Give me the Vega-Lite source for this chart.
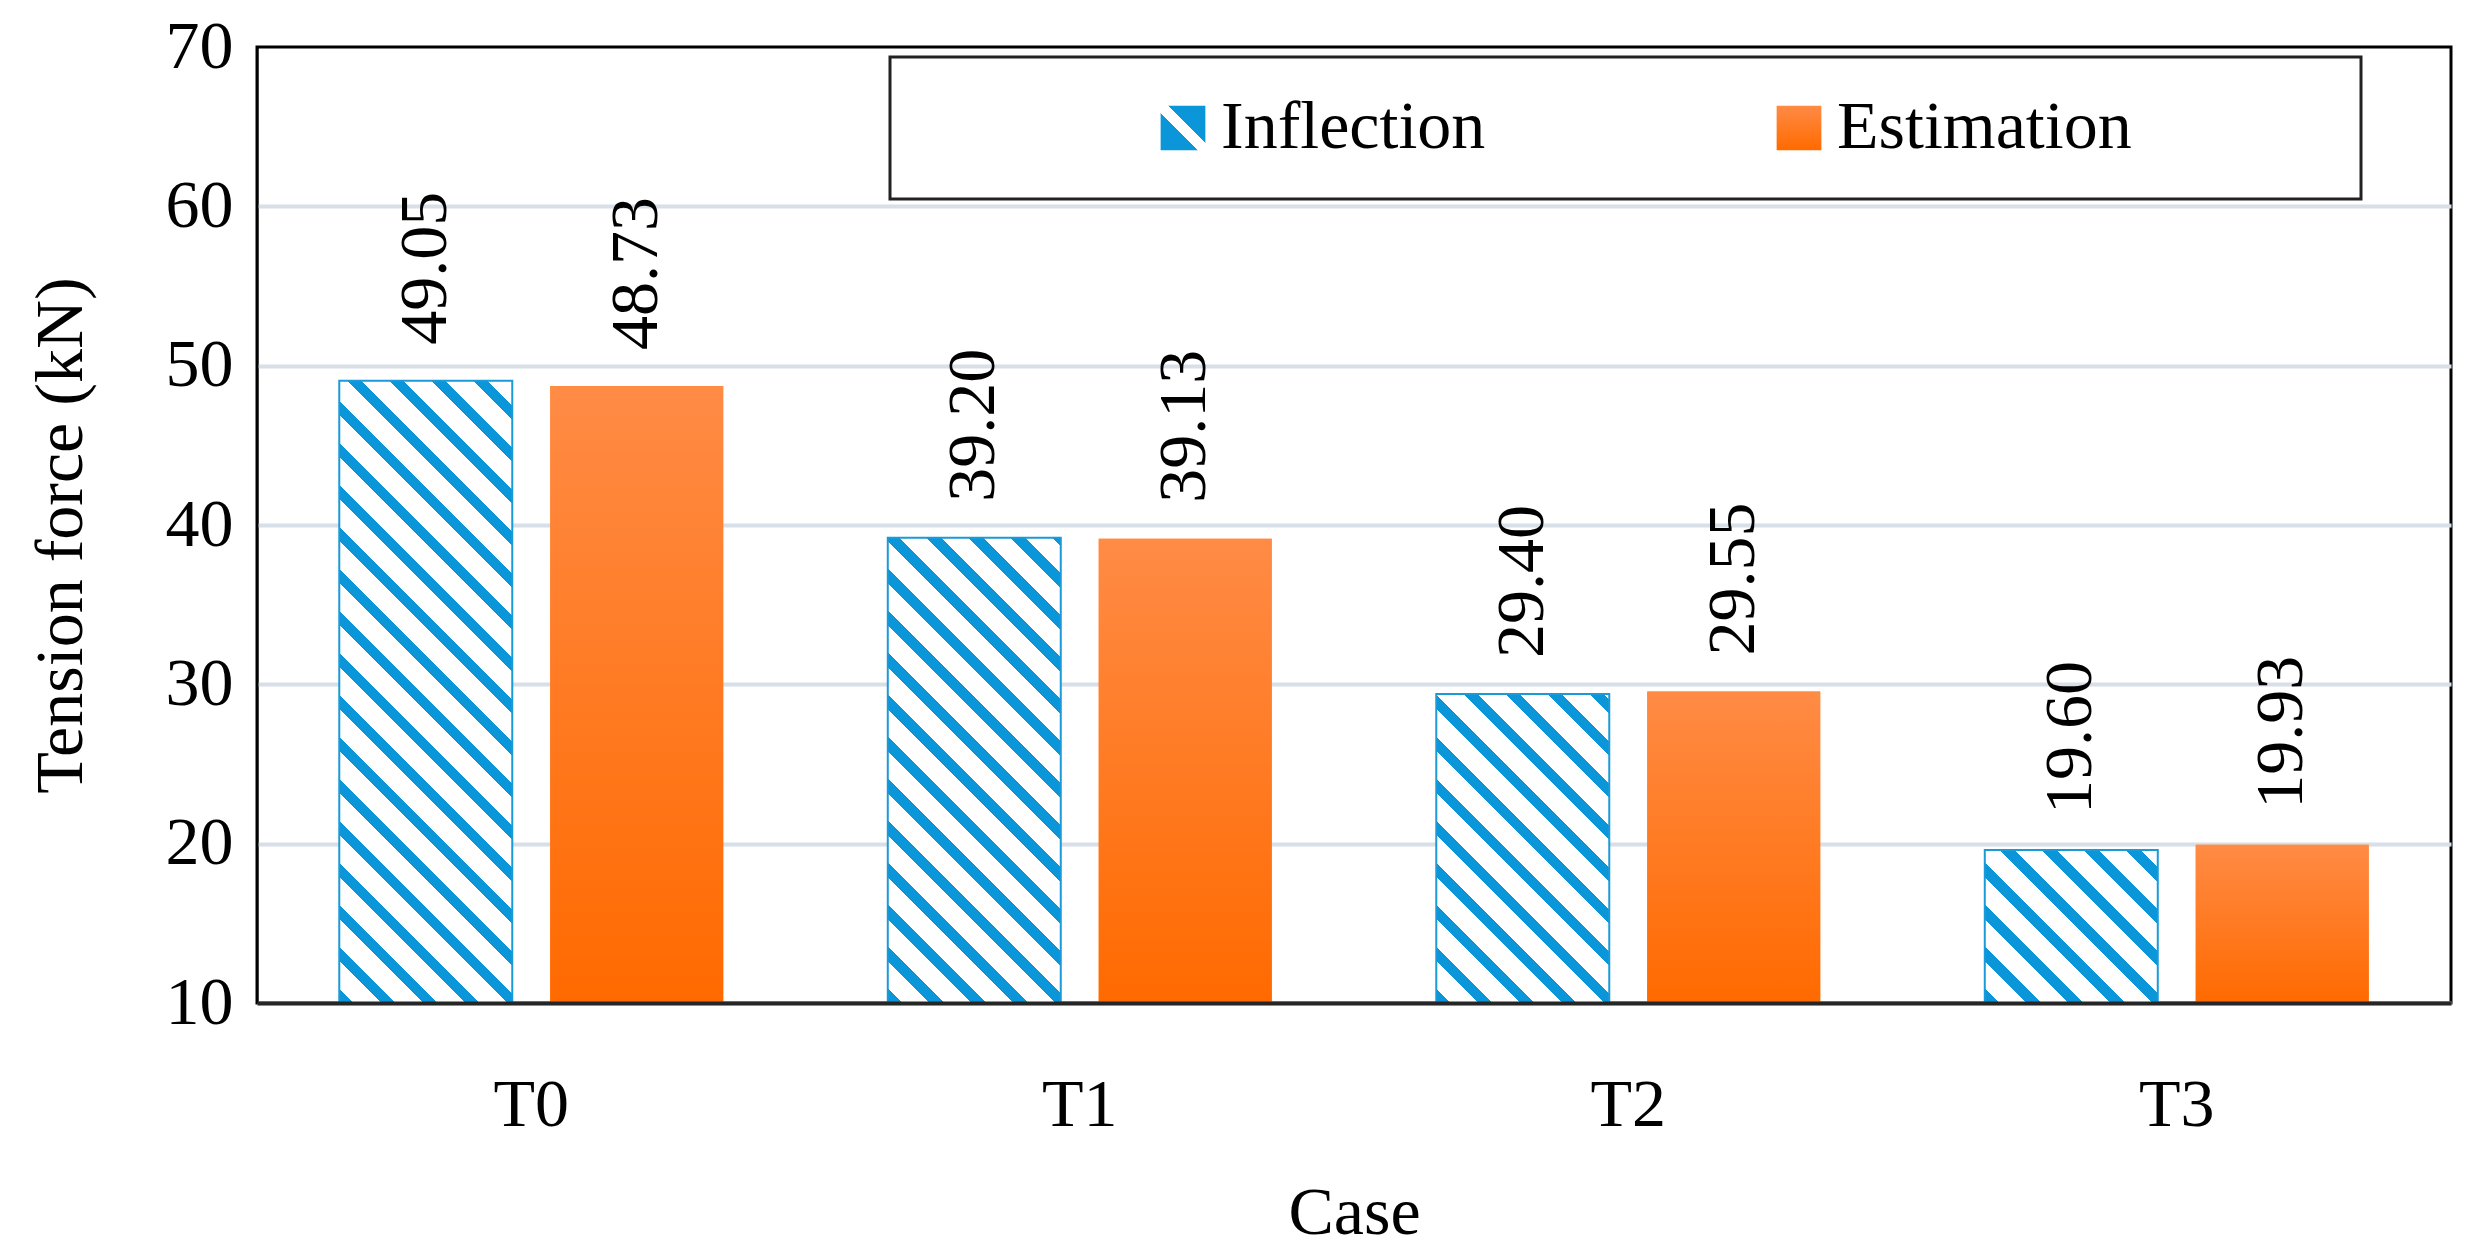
{
  "$schema": "https://vega.github.io/schema/vega-lite/v6.json",
  "width": 2194,
  "height": 956,
  "autosize": {"type": "none"},
  "padding": {"left": 257, "top": 47, "right": 17, "bottom": 255},
  "background": "white",
  "config": {
    "view": {"stroke": "#000", "strokeWidth": 3},
    "font": "Liberation Serif",
    "legend": {"strokeWidth": 3}
  },
  "data": {
    "values": [
      {"Case": "T0", "Series": "Inflection", "Force": 49.05},
      {"Case": "T0", "Series": "Estimation", "Force": 48.73},
      {"Case": "T1", "Series": "Inflection", "Force": 39.20},
      {"Case": "T1", "Series": "Estimation", "Force": 39.13},
      {"Case": "T2", "Series": "Inflection", "Force": 29.40},
      {"Case": "T2", "Series": "Estimation", "Force": 29.55},
      {"Case": "T3", "Series": "Inflection", "Force": 19.60},
      {"Case": "T3", "Series": "Estimation", "Force": 19.93}
    ]
  },
  "encoding": {
    "x": {
      "field": "Case", "type": "nominal", "title": "Case",
      "scale": {"paddingInner": 0.3, "paddingOuter": 0.15},
      "axis": {
        "labelAngle": 0, "labelFontSize": 68, "labelFont": "Liberation Serif", "labelColor": "#000",
        "labelPadding": 122, "labelBaseline": "alphabetic", "ticks": false, "tickSize": 0,
        "domainColor": "#262626", "domainWidth": 4, "grid": false,
        "titleFontSize": 68, "titleFont": "Liberation Serif", "titleFontWeight": "normal", "titleColor": "#000",
        "titleY": 230, "titleBaseline": "alphabetic", "zindex": 1
      }
    },
    "xOffset": {
      "field": "Series", "type": "nominal",
      "scale": {"domain": ["Inflection", "Estimation"], "paddingInner": 0.18}
    },
    "y": {
      "field": "Force", "type": "quantitative", "title": "Tension force (kN)",
      "scale": {"domain": [10, 70], "nice": false, "zero": false},
      "axis": {
        "values": [10, 20, 30, 40, 50, 60, 70],
        "labelFontSize": 68, "labelFont": "Liberation Serif", "labelColor": "#000", "labelPadding": 24,
        "ticks": false, "tickSize": 0, "domainColor": "#000", "domainWidth": 2,
        "grid": true,
        "gridColor": {"condition": {"test": "datum.value == 70", "value": "transparent"}, "value": "#D7DFE8"},
        "gridWidth": 4,
        "titleFontSize": 68, "titleFont": "Liberation Serif", "titleFontWeight": "normal", "titleColor": "#000",
        "titleX": -196, "titleY": 488, "titleAlign": "center", "titleBaseline": "middle", "zindex": 0
      }
    }
  },
  "layer": [
    {
      "mark": {"type": "bar"},
      "encoding": {
        "y2": {"datum": 10},
        "color": {
          "field": "Series", "type": "nominal",
          "scale": {
            "domain": ["Inflection", "Estimation"],
            "range": [
              {"expr": "{gradient:'linear',x1:0,y1:1,x2:1,y2:0,stops:[{offset:0,color:'#0A96D8'},{offset:0.42,color:'#0A96D8'},{offset:0.42,color:'#fff'},{offset:0.58,color:'#fff'},{offset:0.58,color:'#0A96D8'},{offset:1,color:'#0A96D8'}]}"},
              {"expr": "{gradient:'linear',x1:0,y1:0,x2:0,y2:1,stops:[{offset:0,color:'#FF8B45'},{offset:1,color:'#FF6A00'}]}"}
            ]
          },
          "legend": {
            "orient": "none", "legendX": 633, "legendY": 10, "direction": "horizontal",
            "title": "\u00a0", "titleOrient": "right", "titlePadding": 192, "titleFontSize": 68, "titleFont": "Liberation Serif",
            "symbolType": "square", "symbolSize": 2000, "symbolStrokeWidth": 0,
            "labelFontSize": 68, "labelFont": "Liberation Serif", "labelColor": "#000", "labelLimit": 1000,
            "labelOffset": 4, "columnPadding": 57, "symbolOffset": 222, "padding": 37,
            "strokeColor": "#222"
          }
        }
      }
    },
    {
      "transform": [{"filter": "datum.Series == 'Estimation'"}],
      "mark": {
        "type": "bar",
        "fill": {"gradient": "linear", "x1": 0, "y1": 0, "x2": 0, "y2": 1, "stops": [
          {"offset": 0, "color": "#FF8B45"}, {"offset": 1, "color": "#FF6A00"}]}
      },
      "encoding": {"y2": {"datum": 10}}
    },
    {
      "transform": [{"filter": "datum.Series == 'Inflection'"}],
      "mark": {
        "type": "bar", "stroke": "#1A9AD8", "strokeWidth": 2,
        "fill": {"expr": "{gradient:'linear',x1:0,y1:1,x2:840*bandwidth('xOffset')/(pow(bandwidth('xOffset'),2)+pow(scale('y',10)-scale('y',datum.Force),2)),y2:1-840*(scale('y',10)-scale('y',datum.Force))/(pow(bandwidth('xOffset'),2)+pow(scale('y',10)-scale('y',datum.Force),2)),stops:[{offset:0,color:'#0A96D8'},{offset:0.0175,color:'#0A96D8'},{offset:0.0175,color:'#fff'},{offset:0.05,color:'#fff'},{offset:0.05,color:'#0A96D8'},{offset:0.0675,color:'#0A96D8'},{offset:0.0675,color:'#fff'},{offset:0.1,color:'#fff'},{offset:0.1,color:'#0A96D8'},{offset:0.1175,color:'#0A96D8'},{offset:0.1175,color:'#fff'},{offset:0.15,color:'#fff'},{offset:0.15,color:'#0A96D8'},{offset:0.1675,color:'#0A96D8'},{offset:0.1675,color:'#fff'},{offset:0.2,color:'#fff'},{offset:0.2,color:'#0A96D8'},{offset:0.2175,color:'#0A96D8'},{offset:0.2175,color:'#fff'},{offset:0.25,color:'#fff'},{offset:0.25,color:'#0A96D8'},{offset:0.2675,color:'#0A96D8'},{offset:0.2675,color:'#fff'},{offset:0.3,color:'#fff'},{offset:0.3,color:'#0A96D8'},{offset:0.3175,color:'#0A96D8'},{offset:0.3175,color:'#fff'},{offset:0.35,color:'#fff'},{offset:0.35,color:'#0A96D8'},{offset:0.3675,color:'#0A96D8'},{offset:0.3675,color:'#fff'},{offset:0.4,color:'#fff'},{offset:0.4,color:'#0A96D8'},{offset:0.4175,color:'#0A96D8'},{offset:0.4175,color:'#fff'},{offset:0.45,color:'#fff'},{offset:0.45,color:'#0A96D8'},{offset:0.4675,color:'#0A96D8'},{offset:0.4675,color:'#fff'},{offset:0.5,color:'#fff'},{offset:0.5,color:'#0A96D8'},{offset:0.5175,color:'#0A96D8'},{offset:0.5175,color:'#fff'},{offset:0.55,color:'#fff'},{offset:0.55,color:'#0A96D8'},{offset:0.5675,color:'#0A96D8'},{offset:0.5675,color:'#fff'},{offset:0.6,color:'#fff'},{offset:0.6,color:'#0A96D8'},{offset:0.6175,color:'#0A96D8'},{offset:0.6175,color:'#fff'},{offset:0.65,color:'#fff'},{offset:0.65,color:'#0A96D8'},{offset:0.6675,color:'#0A96D8'},{offset:0.6675,color:'#fff'},{offset:0.7,color:'#fff'},{offset:0.7,color:'#0A96D8'},{offset:0.7175,color:'#0A96D8'},{offset:0.7175,color:'#fff'},{offset:0.75,color:'#fff'},{offset:0.75,color:'#0A96D8'},{offset:0.7675,color:'#0A96D8'},{offset:0.7675,color:'#fff'},{offset:0.8,color:'#fff'},{offset:0.8,color:'#0A96D8'},{offset:0.8175,color:'#0A96D8'},{offset:0.8175,color:'#fff'},{offset:0.85,color:'#fff'},{offset:0.85,color:'#0A96D8'},{offset:0.8675,color:'#0A96D8'},{offset:0.8675,color:'#fff'},{offset:0.9,color:'#fff'},{offset:0.9,color:'#0A96D8'},{offset:0.9175,color:'#0A96D8'},{offset:0.9175,color:'#fff'},{offset:0.95,color:'#fff'},{offset:0.95,color:'#0A96D8'},{offset:0.9675,color:'#0A96D8'},{offset:0.9675,color:'#fff'},{offset:1,color:'#fff'}]}"}
      },
      "encoding": {"y2": {"datum": 10}}
    },
    {
      "mark": {
        "type": "text", "angle": 270, "align": "left", "baseline": "middle", "dx": 36,
        "fontSize": 68, "font": "Liberation Serif", "color": "#000"
      },
      "encoding": {"text": {"field": "Force", "type": "quantitative", "format": ".2f"}}
    }
  ]
}
